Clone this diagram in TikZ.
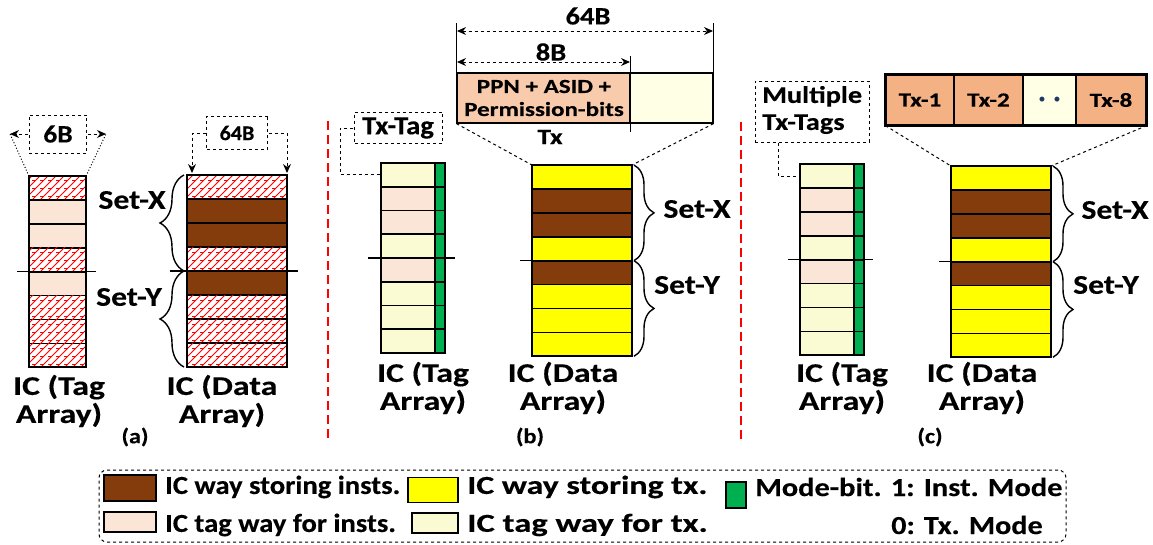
\documentclass[tikz,border=0pt]{standalone}
\usepackage{fontspec}
\setmainfont{Carlito}[BoldFeatures={FakeBold=0.3}]
\usetikzlibrary{patterns.meta,decorations.pathreplacing,arrows.meta,calc}

\definecolor{instbrown}{HTML}{843C0C}
\definecolor{txyellow}{HTML}{FFFF00}
\definecolor{itagpeach}{HTML}{FBE5D6}
\definecolor{ttagcream}{HTML}{FAFBD2}
\definecolor{modegreen}{HTML}{00B050}
\definecolor{fieldpeach}{HTML}{F8CBAD}
\definecolor{slotpeach}{HTML}{F4B183}
\definecolor{emptycream}{HTML}{FFFFE5}
\definecolor{dotnavy}{HTML}{1F3864}

% red "scale" hatching used for ways that hold neither kind of content
\tikzdeclarepattern{
  name=redscale,
  type=uncolored,
  bounding box={(-1pt,-1pt) and (9pt,9pt)},
  tile size={(8pt,8pt)},
  code={
    \draw[line width=0.9pt] (0pt,0pt) -- (8pt,8pt);
    \draw[line width=0.9pt] (0pt,4pt) -- (3pt,4pt);
  }
}

\begin{document}
\begin{tikzpicture}[x=1pt,y=-1pt,
  way/.style={draw=black,line width=1.7pt,inner sep=0pt,outer sep=0pt},
  hatchway/.style={fill=white,postaction={pattern=redscale,pattern color=red}},
  insway/.style={fill=instbrown},
  txway/.style={fill=txyellow},
  itag/.style={fill=itagpeach},
  ttag/.style={fill=ttagcream},
  modecell/.style={fill=modegreen},
  rim/.style={draw=black,line width=2.4pt},
  divider/.style={draw=black,line width=1.3pt},
  bracepen/.style={draw=black,line width=1.4pt,decorate},
  wide/.style={xscale=#1,transform shape},
  lbl/.style={font=\bfseries\fontsize{27}{28}\selectfont,align=center,inner sep=0pt,wide=1.25},
  setlbl/.style={font=\bfseries\fontsize{27}{28}\selectfont,inner sep=0pt,wide=1.17},
  caplbl/.style={font=\bfseries\fontsize{21}{22}\selectfont,inner sep=0pt,wide=1.15},
  sizelbl/.style={font=\bfseries\fontsize{25}{26}\selectfont,inner sep=0pt,wide=1.14},
  slottxt/.style={font=\bfseries\fontsize{20}{22}\selectfont,inner sep=0pt,wide=1.25},
  dashbox/.style={draw=black,dashed,line width=1pt,inner sep=0pt},
  dimline/.style={draw=black,dashed,line width=1pt},
  legtxt/.style={font=\bfseries\fontsize{26}{28}\selectfont,anchor=west,inner sep=0pt},
  swatch/.style={draw=black,line width=1.2pt,inner sep=0pt},
  panelsep/.style={draw=red,line width=2.4pt,dash pattern=on 9pt off 5pt},
  tip/.style={-{Stealth[length=9pt,width=8pt]}},
  tips/.style={{Stealth[length=9pt,width=8pt]}-{Stealth[length=9pt,width=8pt]}}
]
\useasboundingbox (0,0) rectangle (1153,544);

% ---------------- (a) conventional instruction cache ----------------
\foreach \s [count=\i from 0] in {hatchway,itag,itag,hatchway,itag,hatchway,hatchway,hatchway}
  \node[way,\s,minimum width=57pt,minimum height=23.9pt] (ta\i) at (57.5,188+\i*23.9) {};
\draw[rim] (ta0.north west) rectangle (ta7.south east);
\draw[divider] ($(ta4.north west)+(-12,0)$) -- ($(ta4.north east)+(10,0)$);

\foreach \s [count=\i from 0] in {hatchway,insway,insway,hatchway,insway,hatchway,hatchway,hatchway}
  \node[way,\s,minimum width=100pt,minimum height=24pt] (da\i) at (237,187+\i*24) {};
\draw[rim] (da0.north west) rectangle (da7.south east);
\draw[divider] ($(da4.north west)+(-17,0)$) -- ($(da4.north east)+(11,0)$);

\draw[bracepen,decoration={brace,amplitude=24pt}] ($(da3.south west)+(-3,0)$) -- ($(da0.north west)+(-3,0)$);
\draw[bracepen,decoration={brace,amplitude=24pt}] ($(da7.south west)+(-3,0)$) -- ($(da4.north west)+(-3,0)$);
\node[setlbl] (sxa) at (132,200) {Set-X};
\node[setlbl] (sya) at (129,297) {Set-Y};

\node[dashbox,minimum width=52.7pt,minimum height=38pt,font=\bfseries\fontsize{25}{26}\selectfont,wide=1.1] (sixb) at (58,134) {6B};
\coordinate (sixl) at (10,134);
\coordinate (sixr) at (106,134);
\draw[dimline,tip] (sixb.west) -- (sixl);
\draw[dimline,tip] (sixb.east) -- (sixr);
\draw[black,dotted,line width=1pt] (ta0.north west) -- (sixl);
\draw[black,dotted,line width=1pt] (ta0.north east) -- (sixr);

\node[dashbox,minimum width=59pt,minimum height=33pt,font=\bfseries\fontsize{21}{22}\selectfont,wide=1.05] (sfb) at (237,133) {64B};
\draw[dimline,tip] (sfb.west) -| ($(da0.north west)+(5,-2)$);
\draw[dimline,tip] (sfb.east) -| ($(da0.north east)+(0,-2)$);

\node[lbl] (tla) at (59,401) {IC (Tag\\Array)};
\node[lbl] (dla) at (222,401) {IC (Data\\Array)};
\node[caplbl] (capa) at (135,437) {(a)};

\draw[panelsep] (328,121) -- (328,441);

% ---------------- (b) one transaction per way ----------------
\foreach \s [count=\i from 0] in {ttag,itag,itag,ttag,itag,ttag,ttag,ttag} {
  \node[way,\s,minimum width=54pt,minimum height=23.75pt] (tb\i) at (408,174.9+\i*23.75) {};
  \node[way,modecell,minimum width=10pt,minimum height=23.75pt] (gb\i) at (440,174.9+\i*23.75) {};
}
\draw[rim] (tb0.north west) rectangle (gb7.south east);
\draw[divider] ($(tb4.north west)+(-13,0)$) -- ($(gb4.north east)+(10,0)$);

\foreach \s [count=\i from 0] in {txway,insway,insway,txway,insway,txway,txway,txway}
  \node[way,\s,minimum width=100pt,minimum height=23.9pt] (db\i) at (582,177+\i*23.9) {};
\draw[rim] (db0.north west) rectangle (db7.south east);
\draw[divider] ($(db4.north west)+(-12,0)$) -- (db4.north east);

\draw[bracepen,decoration={brace,amplitude=20pt}] ($(db0.north east)+(2,0)$) -- ($(db3.south east)+(2,0)$);
\draw[bracepen,decoration={brace,amplitude=20pt}] ($(db4.north east)+(2,0)$) -- ($(db7.south east)+(2,0)$);
\node[setlbl] (sxb) at (697,209) {Set-X};
\node[setlbl] (syb) at (687,285) {Set-Y};

\node[draw=black,line width=1.2pt,fill=fieldpeach,minimum width=173pt,minimum height=50pt,inner sep=0pt] (txf) at (543.5,98) {};
\node[font=\bfseries\fontsize{20}{23}\selectfont,align=center,inner sep=0pt,wide=1.25] (txft) at (544,98) {PPN + ASID +\\Permission-bits};
\node[draw=black,line width=1.2pt,fill=emptycream,minimum width=83pt,minimum height=50pt,inner sep=0pt] (txe) at (671.5,98) {};
\node[font=\bfseries\fontsize{22}{24}\selectfont,inner sep=0pt,wide=1.25] (txl) at (550,137) {Tx};
\draw[black,line width=1.2pt] (txf.south west) -- ++(0,-101);
\draw[black,line width=1.2pt] ($(txf.north east)+(0,-16)$) -- ++(0,76);
\draw[black,line width=1.2pt] (txe.south east) -- ++(0,-101);
\coordinate (w64l) at (457,31);
\coordinate (w64r) at (713,31);
\coordinate (w8l) at (457,62);
\coordinate (w8r) at (630,62);
\draw[dimline,tips] (w64l) -- (w64r);
\draw[dimline,tips] (w8l) -- (w8r);
\node[sizelbl] (l64b) at (588,16) {64B};
\node[sizelbl] (l8b) at (551,52) {8B};
\draw[dimline] (txf.south west) -- (db0.north west);
\draw[dimline] (txe.south east) -- (db0.north east);

\node[dashbox,minimum width=80pt,minimum height=31pt,font=\bfseries\fontsize{26}{27}\selectfont,wide=1.1] (txtag) at (398,128) {Tx-Tag};
\draw[dimline] (txtag.west) -- ++(-13,0) |- (tb0.west);

\node[lbl] (tlb) at (423,388) {IC (Tag\\Array)};
\node[lbl] (dlb) at (563,388) {IC (Data\\Array)};
\node[caplbl] (capb) at (530,437) {(b)};

\draw[panelsep] (741,122) -- (741,441);

% ---------------- (c) several transactions per way ----------------
\foreach \s [count=\i from 0] in {ttag,itag,itag,ttag,itag,ttag,ttag,ttag} {
  \node[way,\s,minimum width=54pt,minimum height=23.9pt] (tc\i) at (827,176+\i*23.9) {};
  \node[way,modecell,minimum width=10pt,minimum height=23.9pt] (gc\i) at (859,176+\i*23.9) {};
}
\draw[rim] (tc0.north west) rectangle (gc7.south east);
\draw[divider] ($(tc4.north west)+(-12,0)$) -- ($(gc4.north east)+(9,0)$);

\foreach \s [count=\i from 0] in {txway,insway,insway,txway,insway,txway,txway,txway}
  \node[way,\s,minimum width=100pt,minimum height=23.9pt] (dc\i) at (1001,178+\i*23.9) {};
\draw[rim] (dc0.north west) rectangle (dc7.south east);
\draw[divider] ($(dc4.north west)+(-12,0)$) -- (dc4.north east);

\draw[bracepen,decoration={brace,amplitude=20pt}] ($(dc0.north east)+(2,0)$) -- ($(dc3.south east)+(2,0)$);
\draw[bracepen,decoration={brace,amplitude=20pt}] ($(dc4.north east)+(2,0)$) -- ($(dc7.south east)+(2,0)$);
\node[setlbl] (sxc) at (1115,210) {Set-X};
\node[setlbl] (syc) at (1106,285) {Set-Y};

\tikzset{slot/.style={draw=black,line width=1.2pt,minimum height=50pt,inner sep=0pt}}
\node[slot,fill=slotpeach,minimum width=68pt] (s1) at (920,100) {};
\node[slot,fill=slotpeach,minimum width=69pt] (s2) at (988.5,100) {};
\node[slot,fill=emptycream,minimum width=53pt] (sd) at (1049.5,100) {};
\node[slot,fill=slotpeach,minimum width=70pt] (s8) at (1111,100) {};
\node[slottxt] (s1t) at (s1) {Tx-1};
\node[slottxt] (s2t) at (s2) {Tx-2};
\node[inner sep=0pt,text=dotnavy,font=\fontsize{14}{14}\selectfont] (sdt) at (sd) {\textbullet\hspace{8pt}\textbullet};
\node[slottxt] (s8t) at (s8) {Tx-8};
\draw[black,line width=2pt] (s1.north west) rectangle (s8.south east);
\draw[dimline] (s1.south west) -- (dc0.north west);
\draw[dimline] (s8.south east) -- (dc0.north east);

\node[dashbox,minimum width=114pt,minimum height=61pt] (mtag) at (812,111.5) {};
\node[font=\bfseries\fontsize{24}{27}\selectfont,align=left,anchor=west,inner sep=0pt,wide=1.18] (mtagt) at (762,110) {Multiple\\Tx-Tags};
\draw[dimline] ($(mtag.south west)!0.21!(mtag.south east)$) |- (tc0.west);

\node[lbl] (tlc) at (842,388) {IC (Tag\\Array)};
\node[lbl] (dlc) at (982,388) {IC (Data\\Array)};
\node[caplbl] (capc) at (930,437) {(c)};

% ---------------- legend ----------------
\node[draw=black,dashed,line width=1pt,rounded corners=8pt,minimum width=967pt,minimum height=72pt] (legend) at (582.5,506) {};
\node[swatch,fill=instbrown,minimum width=52pt,minimum height=26pt] (k1) at (130,488) {};
\node[legtxt,wide=1.10] (k1t) at (165,487) {IC way storing insts.};
\node[swatch,fill=itagpeach,minimum width=52pt,minimum height=20pt] (k2) at (130,522) {};
\node[legtxt,wide=1.10] (k2t) at (165,525) {IC tag way for insts.};
\node[swatch,fill=txyellow,minimum width=50pt,minimum height=25pt] (k3) at (433,490) {};
\node[legtxt,wide=1.30] (k3t) at (467,487) {IC way storing tx.};
\node[swatch,fill=ttagcream,minimum width=46pt,minimum height=20pt] (k4) at (435,523) {};
\node[legtxt,wide=1.33] (k4t) at (467,525) {IC tag way for tx.};
\node[swatch,fill=modegreen,minimum width=20pt,minimum height=26pt] (k5) at (736,495) {};
\node[legtxt,wide=1.17] (k5t) at (755,487) {Mode-bit. 1: Inst. Mode};
\node[legtxt,wide=1.16] (k6t) at (891,525) {0: Tx. Mode};
\end{tikzpicture}
\end{document}
